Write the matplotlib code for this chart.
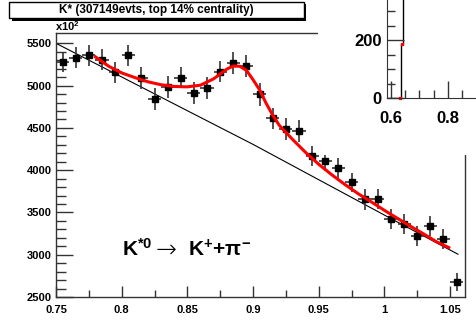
import numpy as np
import matplotlib
matplotlib.use('Agg')
import matplotlib.pyplot as plt
from matplotlib.patches import Rectangle

plt.rcParams['font.family'] = ['Liberation Sans', 'DejaVu Sans']
plt.rcParams['font.weight'] = 'bold'
plt.rcParams['mathtext.fontset'] = 'custom'
plt.rcParams['mathtext.rm'] = 'Liberation Sans:bold'
plt.rcParams['mathtext.it'] = 'Liberation Sans:bold'
plt.rcParams['mathtext.bf'] = 'Liberation Sans:bold'

# K* invariant mass spectrum (bin centres, counts x10^2, errors)
mass = [0.755, 0.765, 0.775, 0.785, 0.795, 0.805, 0.815, 0.825, 0.835, 0.845,
        0.855, 0.865, 0.875, 0.885, 0.895, 0.905, 0.915, 0.925, 0.935, 0.945,
        0.955, 0.965, 0.975, 0.985, 0.995, 1.005, 1.015, 1.025, 1.035, 1.045, 1.055]
counts = [5277, 5332, 5356, 5305, 5159, 5356, 5095, 4839, 4981, 5095,
          4910, 4969, 5162, 5273, 5233, 4898, 4614, 4487, 4463, 4167,
          4104, 4025, 3855, 3654, 3658, 3424, 3361, 3227, 3341, 3184, 2678]
errs = [120, 125, 130, 125, 125, 130, 130, 130, 130, 125,
        130, 130, 125, 130, 130, 135, 125, 125, 125, 120,
        115, 120, 115, 120, 120, 120, 115, 118, 118, 115, 110]
bin_half = 0.005

# background (thin black)
bg_x = [0.75, 0.80, 0.85, 0.90, 0.95, 1.00, 1.056]
bg_y = [5500, 5102, 4703, 4305, 3887, 3469, 3006]

# total fit (red)
fit_x = [0.780, 0.790, 0.800, 0.810, 0.820, 0.830, 0.840, 0.850, 0.860, 0.870,
         0.880, 0.885, 0.890, 0.895, 0.900, 0.905, 0.910, 0.915, 0.920, 0.930,
         0.940, 0.950, 0.960, 0.970, 0.980, 0.990, 1.000, 1.010, 1.020, 1.030,
         1.040, 1.049]
fit_y = [5340, 5230, 5150, 5095, 5045, 5010, 4990, 4985, 5005, 5080,
         5195, 5232, 5228, 5180, 5070, 4950, 4790, 4650, 4530, 4365,
         4210, 4070, 3945, 3830, 3722, 3625, 3525, 3430, 3335, 3245,
         3150, 3085]

# inset histogram (step) and red points
inset_edges = [0.560, 0.636, 0.644, 0.950]
inset_vals = [0, 186, 1000]
inset_pts_x = [0.633, 0.638]
inset_pts_y = [0, 186]

W, H = 476, 327
fig = plt.figure(figsize=(W / 100, H / 100), dpi=100)

def fx(px):
  return px / W

def fy(py):
  return 1 - py / H

ax = fig.add_axes([fx(56), fy(297), fx(464.5 - 56), (297 - 33) / H])
ax.errorbar(mass, counts, yerr=errs, xerr=bin_half, fmt='s', color='black',
            ms=5, ecolor='#333333', elinewidth=1.2, capsize=0, zorder=3)
ax.plot(bg_x, bg_y, color='black', lw=0.8, zorder=2)
ax.plot(fit_x, fit_y, color='red', lw=2.2, zorder=4)

ax.set_xlim(0.75, 1.061)
ax.set_ylim(2500, 5622)
ax.set_xticks([0.75, 0.8, 0.85, 0.9, 0.95, 1.0, 1.05])
ax.set_xticklabels(['0.75', '0.8', '0.85', '0.9', '0.95', '1', '1.05'])
ax.set_xticks(np.arange(0.775, 1.06, 0.05), minor=True)
ax.set_yticks([2500, 3000, 3500, 4000, 4500, 5000, 5500])
ax.set_yticks(np.arange(2600, 5600, 100), minor=True)
ax.tick_params(which='both', direction='in', colors='#333333', labelcolor='black',
               labelsize=8, width=1)
ax.tick_params(axis='x', which='major', length=8, pad=6)
ax.tick_params(axis='x', which='minor', length=5)
ax.tick_params(axis='y', which='major', length=12, pad=3)
ax.tick_params(axis='y', which='minor', length=7)
for s in ax.spines.values():
  s.set_color('#333333')
  s.set_linewidth(1)

# decay label, pieces placed left to right
lab_y = 0.155
ax.text(0.161, lab_y, r'K$^{*0}$', transform=ax.transAxes, fontsize=15,
        ha='left', va='baseline')
ax.text(0.243, lab_y - 0.005, '\u2192', transform=ax.transAxes, fontsize=18,
        ha='left', va='baseline', fontweight='light', family='DejaVu Sans')
ax.text(0.322, lab_y, r'K$^{+}$+$\pi^{-}$', transform=ax.transAxes, fontsize=15,
        ha='left', va='baseline')

fig.text(fx(55), fy(33), r'x10$^{2}$', fontsize=8, ha='left', va='bottom')

# white pad of the overlapping inset
pad = fig.add_axes([fx(318), fy(155), fx(W - 318), 155 / H])
pad.set_facecolor('white')
pad.set_xticks([])
pad.set_yticks([])
for s in pad.spines.values():
  s.set_visible(False)

ins = fig.add_axes([fx(387.3), fy(98.3), fx(W - 387.3), 98.3 / H])
ins.stairs(inset_vals, inset_edges, color='black', lw=1)
ins.plot(inset_pts_x, inset_pts_y, 's', color='red', ms=2, clip_on=False)
ins.set_xlim(0.588, 0.898)
ins.set_ylim(0, 339)
ins.set_xticks([0.6, 0.8])
ins.set_xticks([0.65, 0.7, 0.75, 0.85], minor=True)
ins.set_yticks([0, 200])
ins.set_yticks([50, 100, 150, 250, 300], minor=True)
ins.tick_params(which='both', direction='in', colors='#333333', labelcolor='black',
                labelsize=12, width=1)
ins.tick_params(which='major', length=12, pad=4)
ins.tick_params(axis='x', which='major', pad=9)
ins.tick_params(which='minor', length=6)
ins.spines['top'].set_visible(False)
ins.spines['right'].set_visible(False)
for s in ['left', 'bottom']:
  ins.spines[s].set_color('#333333')

# title box with shadow
fig.patches.append(Rectangle((fx(11.5), fy(20.5)), fx(304 - 9.3), (18.3 - 1.7) / H,
                             transform=fig.transFigure, facecolor='black', edgecolor='none'))
fig.patches.append(Rectangle((fx(9.3), fy(18.3)), fx(304 - 9.3), (18.3 - 1.7) / H,
                             transform=fig.transFigure, facecolor='white', edgecolor='black', lw=1))
fig.text(fx(156.5), fy(10), 'K* (307149evts, top 14% centrality)', fontsize=8.5,
         ha='center', va='center')

fig.savefig('out.png', dpi=100)
